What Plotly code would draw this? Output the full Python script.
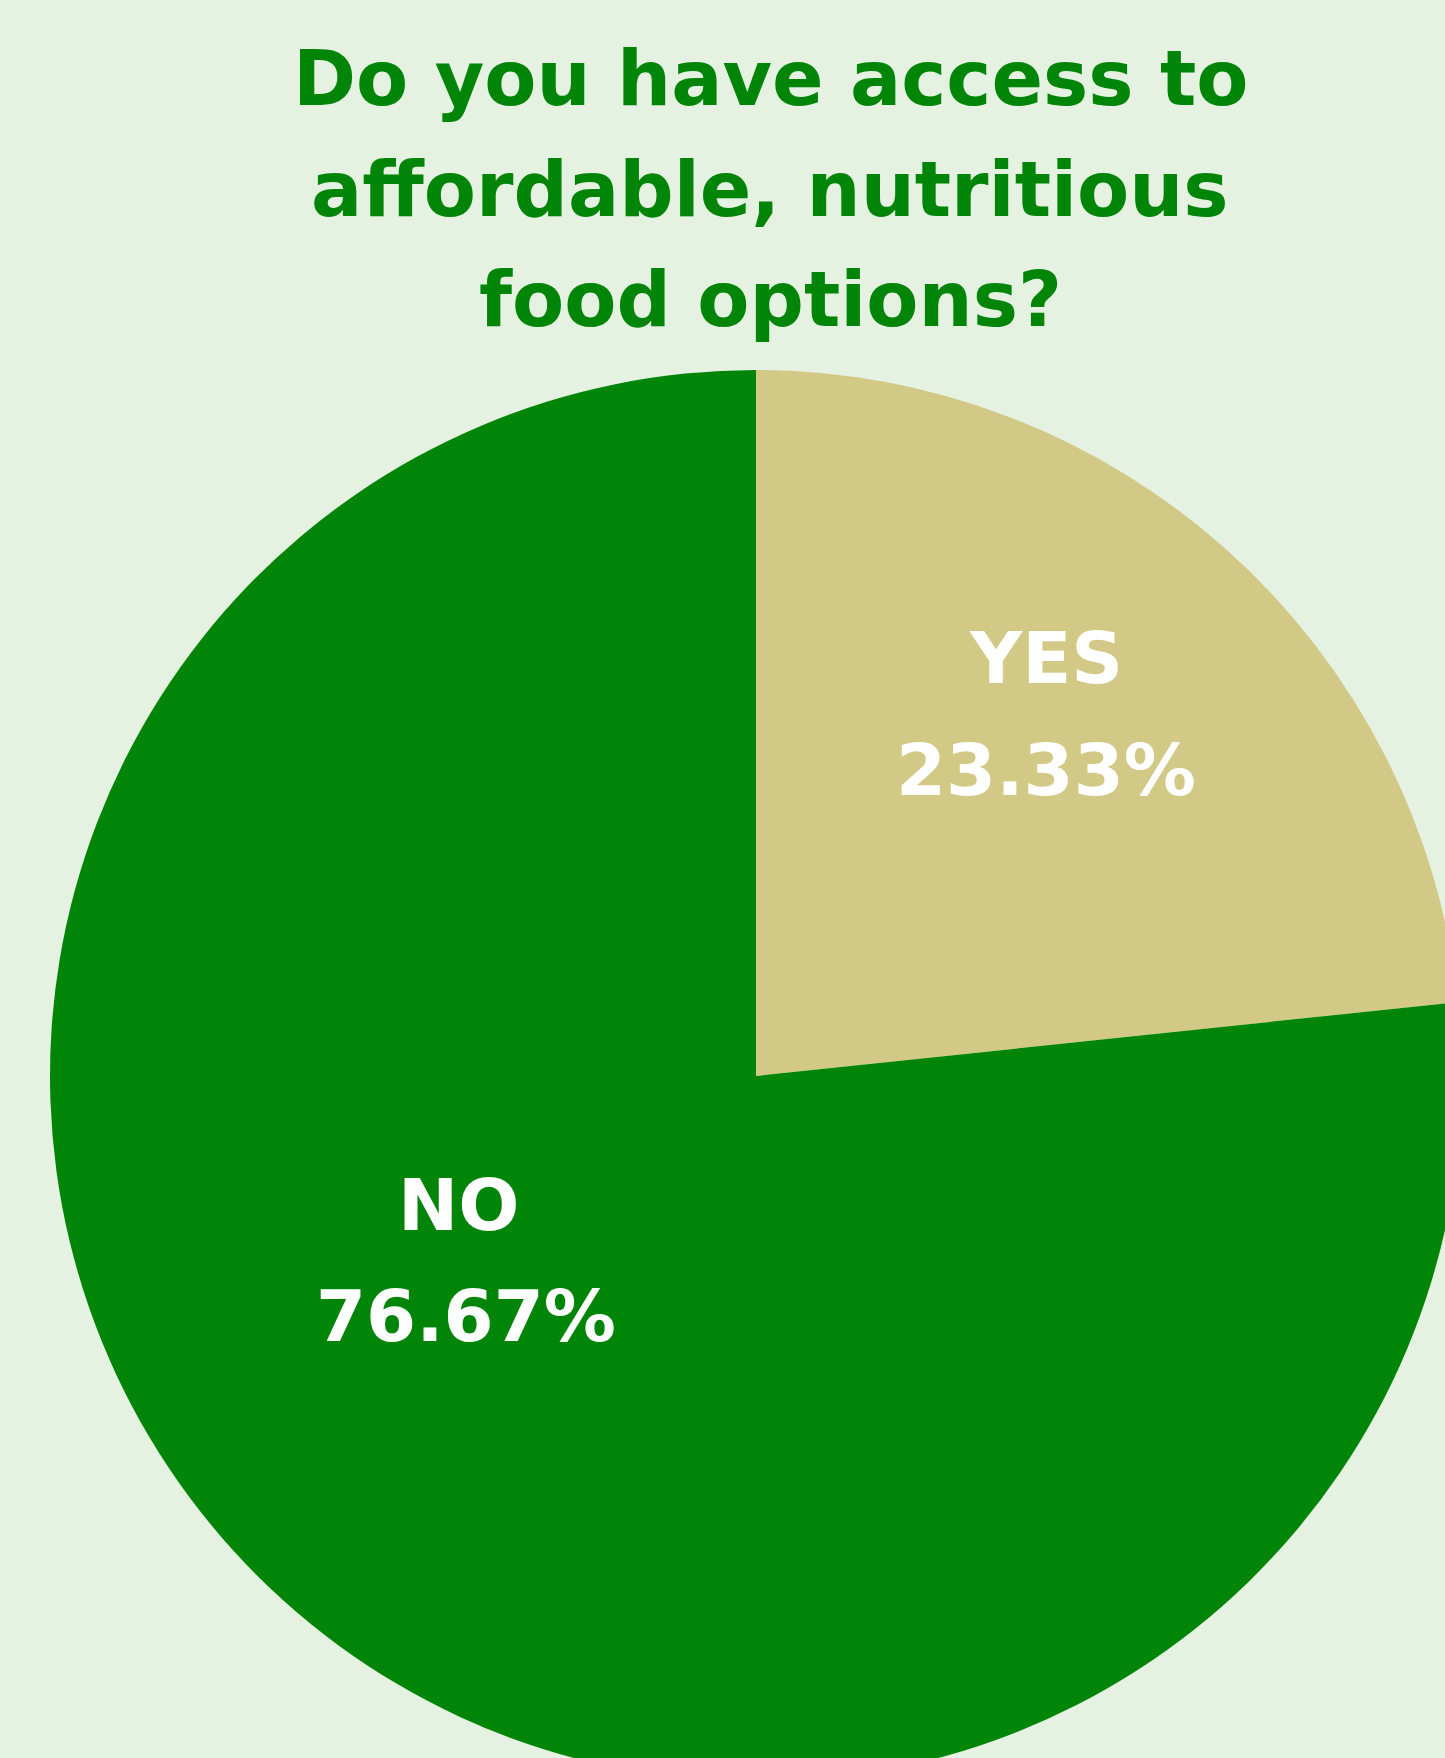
import plotly.graph_objects as go

# ---- data ----
LABELS = ["YES", "NO"]
VALUES = [23.33, 76.67]
TITLE_LINES = ["Do you have access to", "affordable, nutritious", "food options?"]

# ---- style / layout ----
COLORS = ["#D3C986", "#008509"]
BG = "#E5F2E1"
TITLE_COLOR = "#008509"
FONT = "DejaVu Sans"
W, H = 1500, 1800  # larger than the viewport, so the pie is cropped like the reference

# pie placement (pixels)
CX, CY, R = 756, 1076, 706

fig = go.Figure(
    go.Pie(
        labels=LABELS,
        values=VALUES,
        sort=False,
        direction="clockwise",
        rotation=0,
        marker=dict(colors=COLORS, line=dict(width=0)),
        textinfo="none",
        hoverinfo="label+percent",
        showlegend=False,
        domain=dict(
            x=[(CX - R) / W, (CX + R) / W],
            y=[1 - (CY + R) / H, 1 - (CY - R) / H],
        ),
    )
)

annotations = []
title_y = [79, 190, 300]
for line, yp in zip(TITLE_LINES, title_y):
    annotations.append(dict(
        text=line, x=770 / W, y=1 - yp / H, xref="paper", yref="paper",
        xanchor="center", yanchor="middle", showarrow=False,
        font=dict(family=FONT, size=76, color=TITLE_COLOR, weight="bold"),
    ))

# slice labels (label + percentage), text from data
label_pos = {"YES": [(1046, 658), (1046, 770)], "NO": [(458, 1205), (466, 1316)]}
for lab, val in zip(LABELS, VALUES):
    texts = [lab, f"{val:.2f}%"]
    for t, (xp, yp) in zip(texts, label_pos[lab]):
        annotations.append(dict(
            text=t, x=xp / W, y=1 - yp / H, xref="paper", yref="paper",
            xanchor="center", yanchor="middle", showarrow=False,
            font=dict(family=FONT, size=72, color="white", weight="bold"),
        ))

fig.update_layout(
    width=W, height=H,
    margin=dict(l=0, r=0, t=0, b=0),
    paper_bgcolor=BG, plot_bgcolor=BG,
    annotations=annotations,
)

fig.write_html(
    "out.html",
    post_script="document.body.style.margin='0';document.body.style.overflow='hidden';document.documentElement.style.overflow='hidden';",
)
